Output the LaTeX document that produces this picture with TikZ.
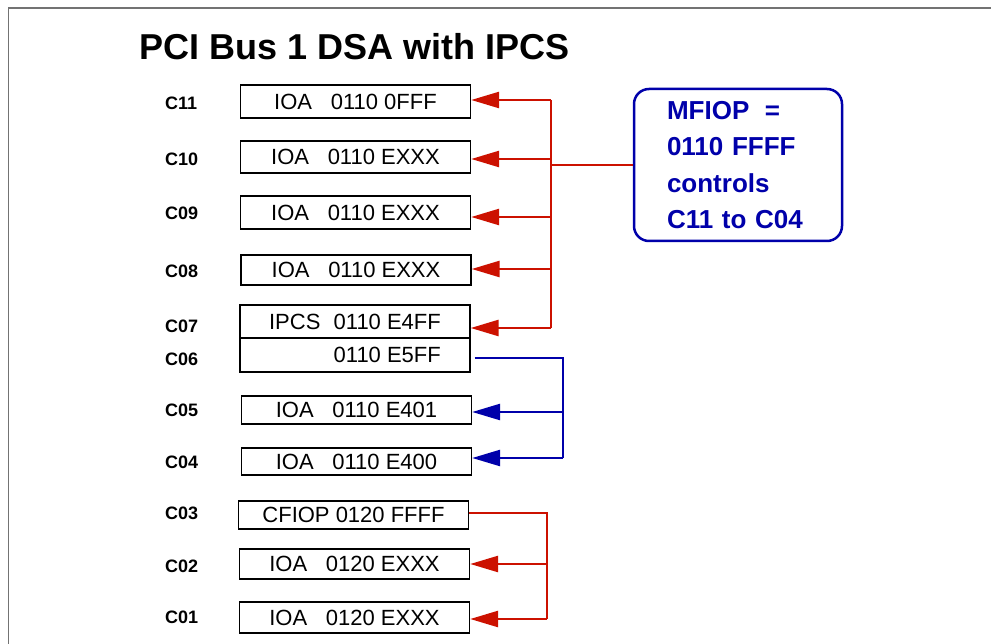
\documentclass[tikz,border=0pt]{standalone}
\usepackage{fontspec}
\setmainfont{Liberation Sans}
\usetikzlibrary{arrows,arrows.meta,positioning}
\definecolor{busred}{RGB}{204,17,0}
\definecolor{busblue}{RGB}{0,0,170}
\tikzset{
  slot/.style={draw, line width=1.3pt, inner sep=0pt, minimum width=230pt, minimum height=31pt, font=\fontsize{22}{24}\selectfont},
  slotlabel/.style={anchor=west, inner sep=0pt, font=\fontsize{18}{20}\selectfont\bfseries},
  redline/.style={draw=busred, line width=2.5pt},
  blueline/.style={draw=busblue, line width=2.5pt},
  redarrow/.style={redline, -{Triangle[length=28pt,width=16pt]}},
  bluearrow/.style={blueline, -{Triangle[length=28pt,width=16pt]}}
}

\begin{document}
\begin{tikzpicture}[x=1pt,y=-1pt]
		\useasboundingbox (0,0) rectangle (991,644);
		\draw[black!55, line width=1.3pt] (8.5,644) -- (8.5,8) -- (991,8);
		\node[anchor=base west, inner sep=0pt, font=\fontsize{36}{40}\selectfont\bfseries] (title) at (139,60) {PCI Bus 1 DSA with IPCS};
		% slots
		\node[slot, minimum height=33pt] (c11) at (355.5,101.5) {IOA\hspace{0.85em}0110 0FFF};
		\node[slot, minimum height=32pt] (c10) at (355.5,157) {IOA\hspace{0.85em}0110 EXXX};
		\node[slot, minimum height=33pt] (c09) at (355.5,212.5) {IOA\hspace{0.85em}0110 EXXX};
		\node[slot, minimum height=30pt] (c08) at (356,270) {IOA\hspace{0.85em}0110 EXXX};
		\node[slot, minimum height=33pt] (c07) at (355,321.5) {IPCS\hspace{0.6em}0110 E4FF};
		\node[slot, minimum height=34pt] (c06) at (355,355) {\phantom{IPCS\hspace{0.6em}}0110 E5FF};
		\node[slot, minimum height=28pt] (c05) at (356.5,410) {IOA\hspace{0.85em}0110 E401};
		\node[slot, minimum height=27pt] (c04) at (356.5,461.5) {IOA\hspace{0.85em}0110 E400};
		\node[slot, minimum height=28pt] (c03) at (353.5,515) {CFIOP 0120 FFFF};
		\node[slot, minimum height=30pt] (c02) at (354.5,564) {IOA\hspace{0.85em}0120 EXXX};
		\node[slot, minimum height=31pt] (c01) at (354.5,617.5) {IOA\hspace{0.85em}0120 EXXX};
		% slot labels
		\node[slotlabel] (l11) at (165,103) {C11};
		\node[slotlabel] (l10) at (165,159) {C10};
		\node[slotlabel] (l09) at (165,213) {C09};
		\node[slotlabel] (l08) at (165,271) {C08};
		\node[slotlabel] (l07) at (165,326) {C07};
		\node[slotlabel] (l06) at (165,359) {C06};
		\node[slotlabel] (l05) at (165,410) {C05};
		\node[slotlabel] (l04) at (165,462) {C04};
		\node[slotlabel] (l03) at (165,513) {C03};
		\node[slotlabel] (l02) at (165,566) {C02};
		\node[slotlabel] (l01) at (165,617) {C01};
		% MFIOP note
		\node[draw=busblue, line width=2.5pt, rounded corners=15pt, minimum width=208pt, minimum height=152pt, text width=142pt, align=left, text=busblue, font=\fontsize{26}{36.3}\selectfont\bfseries] (mfiop) at (738,165) {MFIOP\hspace{0.6em}=\\0110 FFFF\\controls\\C11 to C04};
		% red bus C11 to C07
		\coordinate (r11) at (551,100);
		\coordinate (r10) at (551,159);
		\coordinate (r09) at (551,217);
		\coordinate (r08) at (551,269);
		\coordinate (r07) at (551,328);
		\draw[redline] (r11) -- (r07);
		\draw[redline] (mfiop.west) -- (mfiop.west -| r11);
		\foreach \s in {11,10,09,08,07}
			\draw[redarrow] (r\s) -- (r\s -| c\s.east);
		% blue bus C06 to C04
		\coordinate (b06) at (563,358);
		\coordinate (b05) at (563,412);
		\coordinate (b04) at (563,458);
		\draw[blueline] ([xshift=4pt]c06.east |- b06) -- (b06) -- (b04);
		\draw[bluearrow] (b05) -- (b05 -| c05.east);
		\draw[bluearrow] (b04) -- (b04 -| c04.east);
		% red bus C03 to C01
		\coordinate (s03) at (547,513);
		\coordinate (s02) at (547,564);
		\coordinate (s01) at (547,619);
		\draw[redline] (c03.east |- s03) -- (s03) -- (s01);
		\draw[redarrow] (s02) -- (s02 -| c02.east);
		\draw[redarrow] (s01) -- (s01 -| c01.east);
\end{tikzpicture}
\end{document}
